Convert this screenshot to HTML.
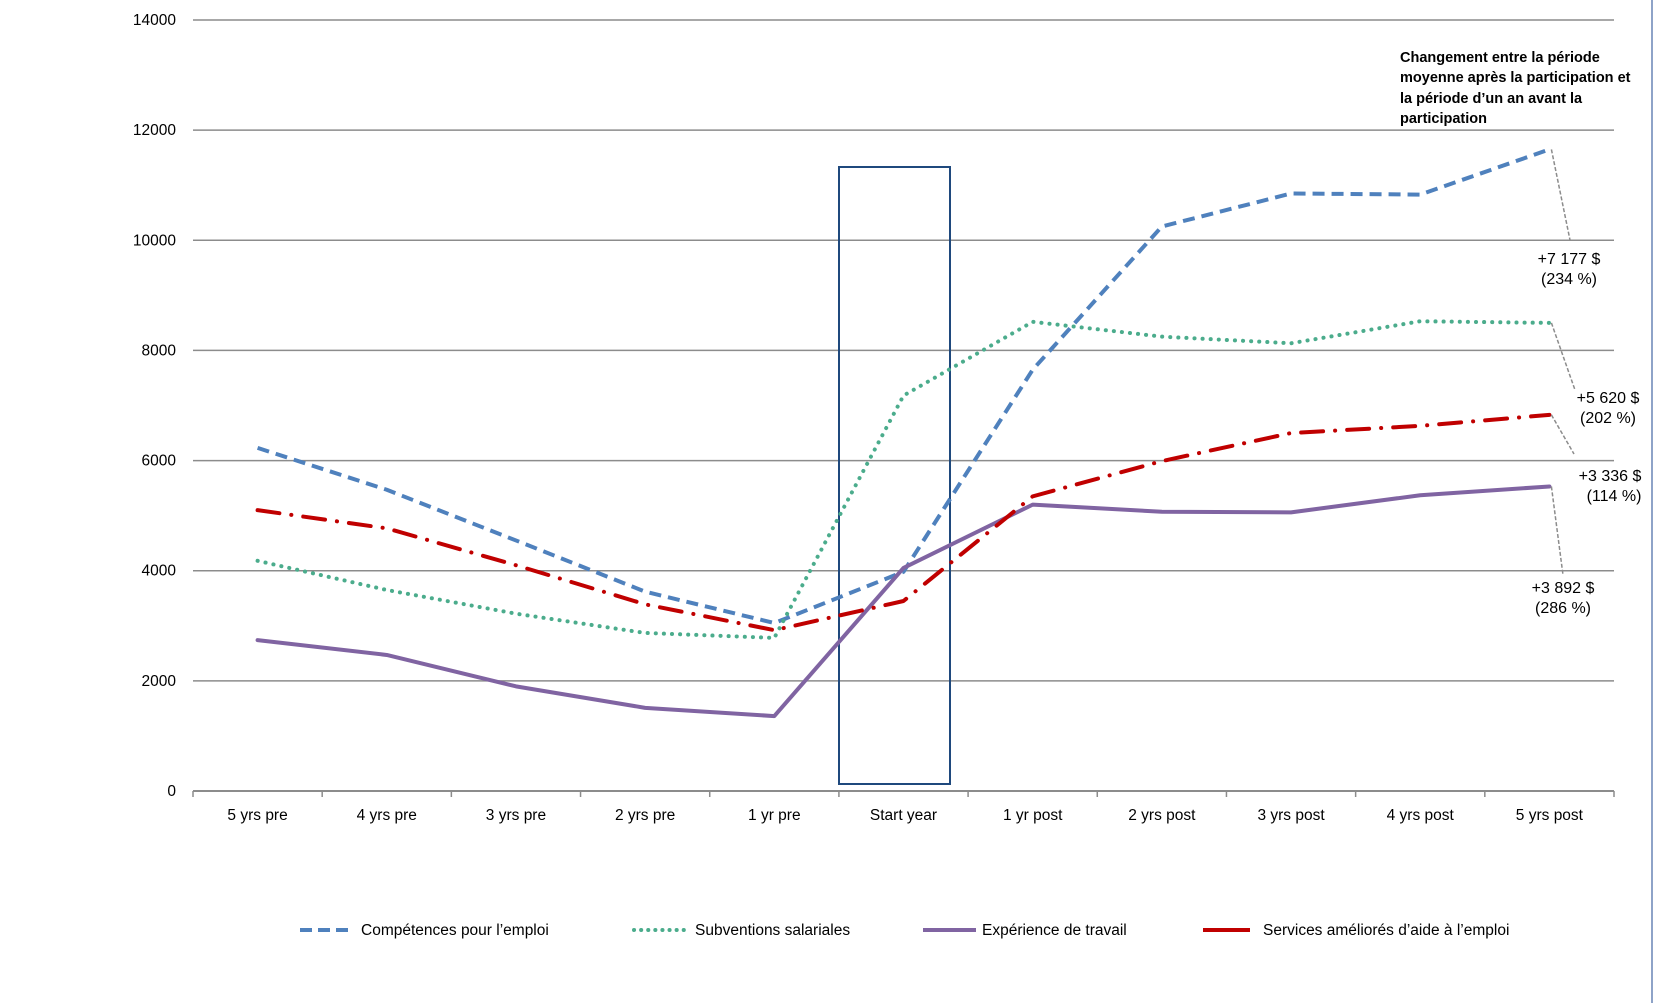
<!DOCTYPE html>
<html><head><meta charset="utf-8"><style>
html,body{margin:0;padding:0;background:#fff;}
svg{display:block;font-family:"Liberation Sans",sans-serif;}
</style></head><body>
<svg id="chart" width="1654" height="1003" viewBox="0 0 1654 1003">
<line x1="1652" y1="0" x2="1652" y2="1003" stroke="#8ea3c8" stroke-width="2"/>
<g id="grid"></g>
<g id="yticks"></g>
<g id="xaxis"></g>
<rect x="839" y="167" width="111" height="617" fill="none" stroke="#1f497d" stroke-width="2"/>
<g id="series"></g>
<g id="annot"></g>
<g font-weight="bold" font-size="14.5" fill="#000">
<text x="1400" y="62">Changement entre la période</text>
<text x="1400" y="82">moyenne après la participation et</text>
<text x="1400" y="103">la période d’un an avant la</text>
<text x="1400" y="123">participation</text>
</g>
<g id="legend" font-size="15.5" fill="#000">
<g><line x1="300" y1="930" x2="353" y2="930" stroke="#4f81bd" stroke-width="4" stroke-dasharray="12,6"/><text x="361" y="935">Compétences pour l’emploi</text></g>
<g><line x1="634" y1="930" x2="686" y2="930" stroke="#4bac8c" stroke-width="4" stroke-dasharray="0.1,7" stroke-linecap="round"/><text x="695" y="935">Subventions salariales</text></g>
<g><line x1="923" y1="930" x2="976" y2="930" stroke="#8064a2" stroke-width="4"/><text x="982" y="935">Expérience de travail</text></g>
<g><line x1="1203" y1="930" x2="1250" y2="930" stroke="#c00000" stroke-width="4"/><text x="1263" y="935">Services améliorés d’aide à l’emploi</text></g>
</g>
</svg>
<script>
const categories = ["5 yrs pre","4 yrs pre","3 yrs pre","2 yrs pre","1 yr pre","Start year","1 yr post","2 yrs post","3 yrs post","4 yrs post","5 yrs post"];
const yTicks = [0,2000,4000,6000,8000,10000,12000,14000];
const competences = [6230,5470,4550,3620,3050,3980,7650,10250,10850,10830,11650];
const subventions = [4180,3650,3220,2870,2780,7180,8520,8250,8130,8530,8500];
const experience = [2740,2470,1900,1510,1360,4050,5200,5070,5060,5370,5530];
const services = [5100,4770,4100,3390,2920,3450,5350,5990,6500,6630,6830];
const changeLabels = [["+7 177 $","(234 %)"],["+5 620 $","(202 %)"],["+3 336 $","(114 %)"],["+3 892 $","(286 %)"]];

const NS="http://www.w3.org/2000/svg";
const L=193,R=1614,T=20,B=791,MAX=14000;
const step=(R-L)/categories.length;
const xS=i=>L+step*(i+0.5);
const yS=v=>B-(v/MAX)*(B-T);
function mk(tag,attrs,parent){const e=document.createElementNS(NS,tag);for(const k in attrs)e.setAttribute(k,attrs[k]);parent.appendChild(e);return e;}
const grid=document.getElementById('grid'),yt=document.getElementById('yticks'),xa=document.getElementById('xaxis');
yTicks.forEach(v=>{
  if(v>0){const g=mk('line',{x1:L,x2:R,y1:yS(v),y2:yS(v),stroke:'#8c8c8c','stroke-width':1.5},grid);
  
  }
  const t=mk('text',{x:176,y:yS(v)+5,'text-anchor':'end','font-size':15.5,fill:'#000'},yt);
  t.textContent=v;
  
  
});
mk('line',{x1:L,x2:R,y1:B,y2:B,stroke:'#8c8c8c','stroke-width':2},xa);
for(let i=0;i<=categories.length;i++){mk('line',{x1:L+step*i,x2:L+step*i,y1:B,y2:B+6,stroke:'#8c8c8c','stroke-width':1.5},xa);}
categories.forEach((c,i)=>{
  const t=mk('text',{x:xS(i),y:820,'text-anchor':'middle','font-size':15.5,fill:'#000'},xa);
  t.textContent=c;
  
  
});
const sg=document.getElementById('series');
const defs=[
 [competences,'#4f81bd','12,7','butt','series-competences'],
 [subventions,'#4bac8c','0.1,8','round','series-subventions'],
 [experience,'#8064a2','','round','series-experience'],
 [services,'#c00000','22,12,0.1,12','round','series-services']
];
defs.forEach(([d,c,da,cap,name])=>{
  const p=mk('polyline',{points:d.map((v,i)=>xS(i)+','+yS(v)).join(' '),fill:'none',stroke:c,'stroke-width':4,'stroke-linejoin':'round','stroke-linecap':cap},sg);
  if(da)p.setAttribute('stroke-dasharray',da);
  
  
});
const an=document.getElementById('annot');
const last=categories.length-1;
// [leader end x, leader end y, text centre x line1, line2, baseline y, series]
const lab=[[1570,240,1569,1569,264,competences],[1575,390,1608,1608,403,subventions],[1574,454,1610,1614,481,services],[1563,575,1563,1563,593,experience]];
lab.forEach(([lx,ly,tx1,tx2,ty,d],k)=>{
  const l=mk('line',{x1:xS(last)+2,y1:yS(d[last]),x2:lx,y2:ly,stroke:'#8c8c8c','stroke-width':1.5,'stroke-dasharray':'4,2'},an);
  
  
  [0,1].forEach(j=>{
    const t=mk('text',{x:j?tx2:tx1,y:ty+j*20,'text-anchor':'middle','font-size':16,fill:'#000'},an);
    t.textContent=changeLabels[k][j];
    
    
  });
});
</script>
</body></html>
